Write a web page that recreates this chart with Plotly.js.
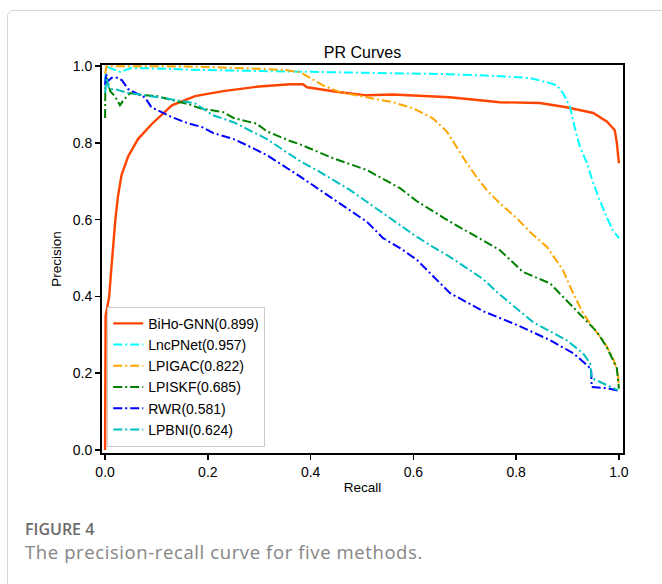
<!DOCTYPE html>
<html>
<head>
<meta charset="utf-8">
<script src="https://cdn.plot.ly/plotly-3.0.1.min.js"></script>
<style>
  html, body { margin: 0; padding: 0; background: #ffffff; }
  body { width: 662px; height: 584px; position: relative; overflow: hidden; }
  #frame { position: absolute; left: 7px; top: 10px; width: 720px; height: 640px;
           border: 1.5px solid #d6d6d6; border-radius: 6px; box-sizing: border-box; }
  #chart { position: absolute; left: 0; top: 0; width: 662px; height: 584px; }
  .cap1 { position: absolute; left: 25px; top: 518px; font-family: "Open Sans", "Noto Sans", sans-serif;
          font-size: 16px; font-weight: 600; color: #6b6b6b; }
  .cap2 { position: absolute; left: 25px; top: 539px; font-family: "Open Sans", "Noto Sans", sans-serif;
          font-size: 18.5px; letter-spacing: 0.6px; color: #858585; }
</style>
</head>
<body>
<div id="frame"></div>
<div id="chart"></div>
<div class="cap1">FIGURE 4</div>
<div class="cap2">The precision-recall curve for five methods.</div>
<script>
// ---- data ----
const seriesNames = ["BiHo-GNN(0.899)", "LncPNet(0.957)", "LPIGAC(0.822)", "LPISKF(0.685)", "RWR(0.581)", "LPBNI(0.624)"];

const bihoRecall = [0, 0.001, 0.004, 0.008, 0.012, 0.016, 0.02, 0.025, 0.032, 0.045, 0.064, 0.09, 0.13, 0.175, 0.23, 0.3, 0.36, 0.385, 0.393, 0.457, 0.51, 0.56, 0.6, 0.671, 0.768, 0.846, 0.898, 0.95, 0.977, 0.992, 0.996, 1.0];
const bihoPrecision = [0, 0.35, 0.37, 0.40, 0.47, 0.54, 0.60, 0.66, 0.716, 0.765, 0.81, 0.848, 0.898, 0.922, 0.935, 0.947, 0.953, 0.953, 0.945, 0.932, 0.924, 0.926, 0.923, 0.919, 0.906, 0.904, 0.893, 0.878, 0.855, 0.833, 0.80, 0.747];

const lncRecall = [0, 0.002, 0.01, 0.03, 0.05, 0.1, 0.185, 0.3, 0.38, 0.5, 0.6, 0.671, 0.768, 0.827, 0.86, 0.879, 0.891, 0.905, 0.914, 0.924, 0.938, 0.95, 0.963, 0.976, 0.988, 1.0];
const lncPrecision = [0.96, 1.0, 0.995, 0.985, 0.995, 0.994, 0.99, 0.987, 0.985, 0.983, 0.981, 0.979, 0.974, 0.969, 0.958, 0.95, 0.93, 0.894, 0.84, 0.79, 0.747, 0.695, 0.65, 0.607, 0.573, 0.552];

const lpigacRecall = [0, 0.003, 0.1, 0.2, 0.3, 0.35, 0.38, 0.4, 0.424, 0.457, 0.51, 0.56, 0.6, 0.638, 0.665, 0.684, 0.704, 0.723, 0.743, 0.768, 0.801, 0.827, 0.86, 0.891, 0.911, 0.93, 0.95, 0.969, 0.988, 0.998, 1.0];
const lpigacPrecision = [0.98, 1.0, 1.0, 0.998, 0.993, 0.99, 0.984, 0.969, 0.95, 0.932, 0.919, 0.906, 0.89, 0.864, 0.83, 0.79, 0.747, 0.711, 0.677, 0.643, 0.604, 0.568, 0.529, 0.469, 0.408, 0.357, 0.318, 0.286, 0.242, 0.2, 0.165];

const lpiskfRecall = [0, 0.0005, 0.003, 0.01, 0.02, 0.029, 0.035, 0.049, 0.07, 0.1, 0.132, 0.165, 0.185, 0.23, 0.25, 0.295, 0.315, 0.36, 0.38, 0.444, 0.51, 0.574, 0.607, 0.638, 0.671, 0.768, 0.813, 0.866, 0.898, 0.93, 0.957, 0.976, 0.996, 1.0];
const lpiskfPrecision = [0.865, 0.95, 0.97, 0.935, 0.92, 0.898, 0.91, 0.93, 0.925, 0.922, 0.911, 0.9, 0.89, 0.88, 0.865, 0.85, 0.83, 0.805, 0.796, 0.76, 0.729, 0.682, 0.648, 0.622, 0.595, 0.521, 0.464, 0.434, 0.39, 0.347, 0.308, 0.269, 0.213, 0.16];

const rwrRecall = [0, 0.002, 0.005, 0.013, 0.023, 0.033, 0.045, 0.078, 0.09, 0.11, 0.13, 0.162, 0.189, 0.21, 0.25, 0.282, 0.315, 0.38, 0.444, 0.477, 0.51, 0.541, 0.574, 0.607, 0.671, 0.735, 0.801, 0.866, 0.911, 0.938, 0.946, 0.947, 0.976, 1.0];
const rwrPrecision = [0.95, 0.98, 0.96, 0.97, 0.97, 0.963, 0.94, 0.918, 0.893, 0.88, 0.867, 0.851, 0.841, 0.826, 0.81, 0.79, 0.768, 0.712, 0.655, 0.625, 0.594, 0.552, 0.526, 0.495, 0.409, 0.362, 0.326, 0.286, 0.252, 0.221, 0.21, 0.164, 0.161, 0.154];

const lpbniRecall = [0, 0.003, 0.008, 0.02, 0.045, 0.11, 0.175, 0.21, 0.25, 0.315, 0.354, 0.38, 0.412, 0.444, 0.477, 0.51, 0.541, 0.574, 0.607, 0.638, 0.671, 0.735, 0.768, 0.833, 0.898, 0.93, 0.944, 0.947, 0.998];
const lpbniPrecision = [0.93, 0.97, 0.94, 0.94, 0.93, 0.918, 0.903, 0.872, 0.854, 0.81, 0.775, 0.752, 0.729, 0.703, 0.677, 0.646, 0.617, 0.585, 0.555, 0.529, 0.503, 0.446, 0.405, 0.333, 0.286, 0.252, 0.226, 0.187, 0.156];

const xTicks = [0, 0.2, 0.4, 0.6, 0.8, 1.0];
const yTicks = [0, 0.2, 0.4, 0.6, 0.8, 1.0];

const DD = "9px,3px,2px,3px";
const traces = [
  {x: bihoRecall, y: bihoPrecision, name: seriesNames[0], color: "#ff4500", dash: "solid", w: 2.4},
  {x: lncRecall, y: lncPrecision, name: seriesNames[1], color: "#00ffff", dash: DD, w: 2},
  {x: lpigacRecall, y: lpigacPrecision, name: seriesNames[2], color: "#ffa500", dash: DD, w: 2},
  {x: lpiskfRecall, y: lpiskfPrecision, name: seriesNames[3], color: "#008000", dash: DD, w: 2},
  {x: rwrRecall, y: rwrPrecision, name: seriesNames[4], color: "#0000ff", dash: DD, w: 2},
  {x: lpbniRecall, y: lpbniPrecision, name: seriesNames[5], color: "#00bfbf", dash: DD, w: 2}
].map(t => ({
  type: "scatter", mode: "lines", x: t.x, y: t.y, name: t.name,
  line: {color: t.color, width: t.w, dash: t.dash}
}));

const axisCommon = {
  showgrid: false, zeroline: false, showline: true, mirror: true,
  linecolor: "#000", linewidth: 2, ticks: "outside", ticklen: 5, tickwidth: 1.5,
  tickcolor: "#000", tickformat: ".1f",
  tickfont: {family: "Liberation Sans, Arial, sans-serif", size: 14, color: "#000"}
};

const layout = {
  width: 662, height: 584,
  margin: {l: 102, r: 39, t: 65, b: 131, pad: 0},
  paper_bgcolor: "rgba(0,0,0,0)", plot_bgcolor: "#fff",
  font: {family: "Liberation Sans, Arial, sans-serif", size: 13, color: "#000"},
  title: {text: "PR Curves", font: {size: 16, color: "#000"}, x: 0.5, xref: "paper", y: 1, yref: "paper", yanchor: "bottom", pad: {b: 7}},
  xaxis: Object.assign({}, axisCommon, {range: [-0.006, 1.008], tickvals: xTicks,
    title: {text: "Recall", font: {size: 13.5}, standoff: 4}}),
  yaxis: Object.assign({}, axisCommon, {range: [-0.008, 1.003], tickvals: yTicks,
    title: {text: "Precision", font: {size: 13.5}, standoff: 8}}),
  showlegend: true,
  legend: {x: 0.01, y: 0.016, xanchor: "left", yanchor: "bottom", bgcolor: "#fff",
    bordercolor: "#cccccc", borderwidth: 1, font: {size: 14}, tracegroupgap: 0}
};

Plotly.newPlot("chart", traces, layout, {displayModeBar: false, staticPlot: true});
</script>
</body>
</html>
